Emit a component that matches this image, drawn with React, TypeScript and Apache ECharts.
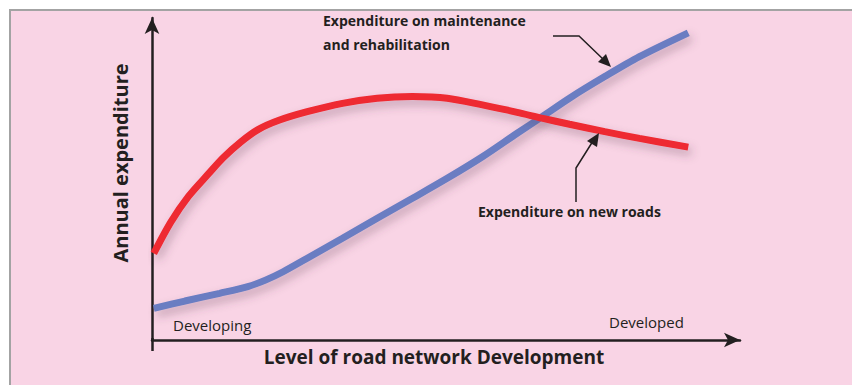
import React, { useEffect, useRef } from "react";
import * as echarts from "echarts";

const newRoadsX = [0.3, 3.2, 6.2, 9.7, 12.1, 15.1, 18.1, 21.7, 26.4, 32.4, 38.3, 44.3, 50.2, 56.2, 62.1, 66.3, 71.0, 77.0, 82.9, 91.2];
const newRoadsY = [26.9, 36.6, 44.6, 51.8, 56.6, 61.5, 65.4, 68.3, 70.9, 73.5, 75.1, 75.6, 75.1, 73.0, 70.7, 68.9, 67.0, 64.7, 62.6, 59.9];
const maintX = [0.3, 5.6, 11.5, 16.3, 19.3, 22.3, 26.4, 32.4, 38.3, 44.3, 50.2, 56.2, 62.1, 66.3, 71.0, 77.0, 82.9, 91.2];
const maintY = [9.8, 12.1, 14.5, 16.6, 18.6, 21.2, 25.4, 31.6, 37.8, 44.0, 50.2, 56.9, 64.2, 69.3, 75.1, 81.8, 88.0, 95.4];

const xAxisName = "Level of road network Development";
const yAxisName = "Annual expenditure";
const stageLabels = ["Developing", "Developed"];
const maintLabel = ["Expenditure on maintenance", "and rehabilitation"];
const newRoadsLabel = "Expenditure on new roads";

const FONT = "'Open Sans', 'Noto Sans', sans-serif";
const PINK = "#f9d4e5";
const INK = "#231f20";

export default function App() {
  const ref = useRef<HTMLDivElement>(null);
  useEffect(() => {
    if (!ref.current) return;
    const chart = echarts.init(ref.current, null, { renderer: "svg" });
    const shadow = {
      shadowBlur: 10,
      shadowColor: "rgba(90,60,80,0.35)",
      shadowOffsetX: 3,
      shadowOffsetY: 5,
    };
    chart.setOption({
      animation: false,
      backgroundColor: "#ffffff",
      grid: { left: 152, right: 112, top: 18, bottom: 45 },
      xAxis: {
        type: "value",
        min: 0,
        max: 100,
        splitLine: { show: false },
        axisTick: { show: false },
        axisLabel: { show: false },
        axisLine: {
          show: true,
          lineStyle: { color: INK, width: 2.5 },
          symbol: ["none", "arrow"],
          symbolSize: [11, 16],
        },
      },
      yAxis: {
        type: "value",
        min: 0,
        max: 100,
        splitLine: { show: false },
        axisTick: { show: false },
        axisLabel: { show: false },
        axisLine: {
          show: true,
          onZero: false,
          lineStyle: { color: INK, width: 2.5 },
          symbol: ["none", "arrow"],
          symbolSize: [11, 16],
        },
      },
      series: [
        {
          name: "Expenditure on maintenance and rehabilitation",
          type: "line",
          smooth: 0.3,
          showSymbol: false,
          data: maintX.map((x, i) => [x, maintY[i]]),
          lineStyle: { color: "#6a7dc2", width: 7, ...shadow },
          z: 3,
        },
        {
          name: "Expenditure on new roads",
          type: "line",
          smooth: 0.3,
          showSymbol: false,
          data: newRoadsX.map((x, i) => [x, newRoadsY[i]]),
          lineStyle: { color: "#ee2a30", width: 7, ...shadow },
          z: 4,
        },
      ],
      graphic: [
        {
          type: "rect",
          z: -10,
          silent: true,
          shape: { x: 10, y: 10, width: 860, height: 400 },
          style: { fill: PINK, stroke: "#a3a3a3", lineWidth: 2 },
        },
        {
          type: "line",
          z: 10,
          shape: { x1: 152.5, y1: 338, x2: 152.5, y2: 351 },
          style: { stroke: INK, lineWidth: 2.5 },
        },
        {
          type: "text",
          x: 434,
          y: 357,
          style: {
            text: xAxisName,
            font: `bold 19px ${FONT}`,
            fill: INK,
            textAlign: "center",
            textVerticalAlign: "middle",
          },
        },
        {
          type: "text",
          x: 120,
          y: 163,
          rotation: Math.PI / 2,
          style: {
            text: yAxisName,
            font: `bold 20px ${FONT}`,
            fill: INK,
            textAlign: "center",
            textVerticalAlign: "middle",
          },
        },
        {
          type: "text",
          x: 173,
          y: 325,
          style: { text: stageLabels[0], font: `15px ${FONT}`, fill: INK, textVerticalAlign: "middle" },
        },
        {
          type: "text",
          x: 609,
          y: 322,
          style: { text: stageLabels[1], font: `15px ${FONT}`, fill: INK, textVerticalAlign: "middle" },
        },
        {
          type: "text",
          x: 323,
          y: 20,
          style: { text: maintLabel[0], font: `bold 14px ${FONT}`, fill: INK, textVerticalAlign: "middle" },
        },
        {
          type: "text",
          x: 323,
          y: 44,
          style: { text: maintLabel[1], font: `bold 14px ${FONT}`, fill: INK, textVerticalAlign: "middle" },
        },
        {
          type: "text",
          x: 478,
          y: 211,
          style: { text: newRoadsLabel, font: `bold 14px ${FONT}`, fill: INK, textVerticalAlign: "middle" },
        },
        {
          type: "polyline",
          z: 10,
          shape: { points: [[553, 36], [579, 36], [604, 60]] },
          style: { stroke: INK, lineWidth: 1.5, fill: "none" },
        },
        {
          type: "polygon",
          z: 10,
          shape: { points: [[611, 67], [598, 62], [606, 54]] },
          style: { fill: INK },
        },
        {
          type: "polyline",
          z: 10,
          shape: { points: [[576, 202], [576, 168], [593, 141]] },
          style: { stroke: INK, lineWidth: 1.5, fill: "none" },
        },
        {
          type: "polygon",
          z: 10,
          shape: { points: [[599, 133], [597, 147], [587, 141]] },
          style: { fill: INK },
        },
      ],
    });
    return () => chart.dispose();
  }, []);
  return (
    <div
      ref={ref}
      style={{ position: "fixed", left: 0, top: 0, width: 852, height: 385 }}
    />
  );
}
